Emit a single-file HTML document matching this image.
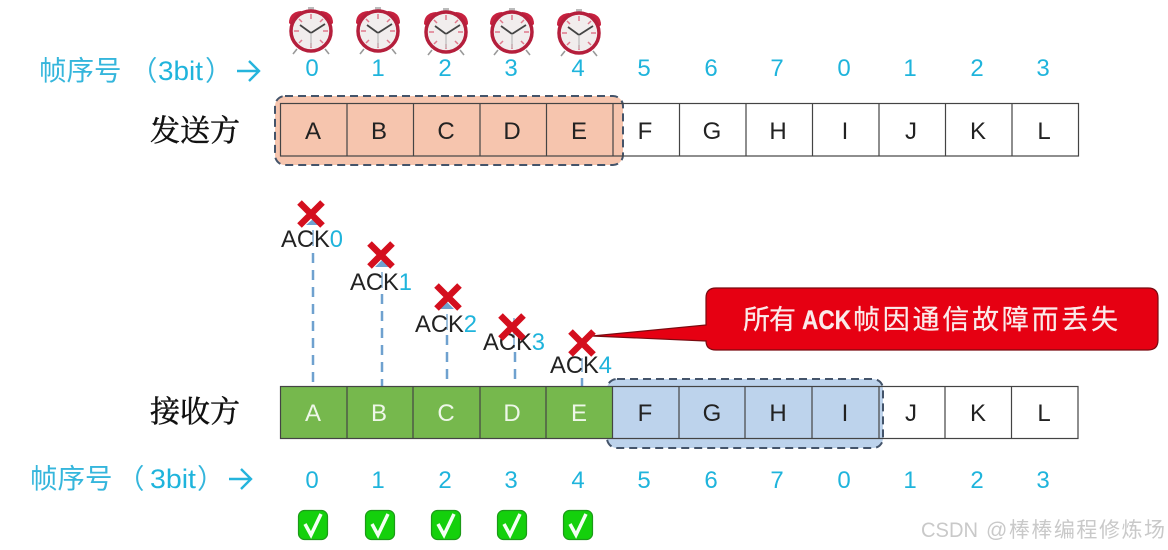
<!DOCTYPE html>
<html><head><meta charset="utf-8"><style>
html,body{margin:0;padding:0;background:#fff}
svg{display:block;filter:blur(0.35px)}
text{font-family:"Liberation Sans","Noto Sans CJK SC",sans-serif}
.c{text-anchor:middle;font-size:24px;fill:#222}
.w{text-anchor:middle;font-size:24px;fill:#eef7e8}
.n{text-anchor:middle;font-size:24px;fill:#1fb4dc}
.lb{font-size:27.5px;fill:#35b6dc}
.bit{font-size:27px;fill:#1fb4dc}
.zh{font-family:"Noto Serif CJK SC","Noto Sans CJK SC",sans-serif;font-size:30px;fill:#111;stroke:#111;stroke-width:.5px}
.a{font-size:24px;fill:#222}
.a tspan{fill:#1fb4dc}
.cw{font-size:27px;fill:#fbeaea;stroke:#fbeaea;stroke-width:.25px}
.wm{fill:#c9c9c9}
</style></head><body>
<svg width="1168" height="550" viewBox="0 0 1168 550" xmlns="http://www.w3.org/2000/svg">
<defs>
<g id="clock">
<path d="M-14 18L-18 23M14 18L18 23" stroke="#999" stroke-width="1.600"/>
<path d="M-22-8Q-22-19-10-20L-6-18L-19-5Z" fill="#c8213f"/>
<path d="M22-8Q22-19 10-20L6-18L19-5Z" fill="#c8213f"/>
<rect x="-3" y="-24" width="6" height="4" fill="#bbb"/>
<circle r="20" fill="#f1eded" stroke="#b51f3c" stroke-width="3.500"/>
<path d="M0-17V-12M0 12V17M-17 0H-12M12 0H17M-12-12L-9-9M12-12L9-9M-12 12L-9 9M12 12L9 9" stroke="#e0788c" stroke-width="1.500"/>
<path d="M0 2L-11-6M0 2L14-7" stroke="#444" stroke-width="1.800" fill="none"/>
<path d="M0 2V16" stroke="#bbb" stroke-width="1.200"/>
</g>
<g id="x"><path d="M-11.500-11.500L11.500 11.500M11.500-11.500L-11.500 11.500" stroke="#d40f1e" stroke-width="6.500"/></g>
<g id="chk">
<rect x="-14.500" y="-14.500" width="29" height="29" rx="6" fill="#14d00c" stroke="#1c9a18" stroke-width="1.200"/>
<path d="M-8-1L-2 10L8-11" fill="none" stroke="#f4fff4" stroke-width="3.500"/>
</g>
</defs>

<!-- Clocks -->
<use href="#clock" x="311" y="31"/>
<use href="#clock" x="378" y="31"/>
<use href="#clock" x="446" y="32"/>
<use href="#clock" x="512" y="32"/>
<use href="#clock" x="579" y="33"/>

<!-- Top row -->
<text class="lb" x="39" y="80">帧序号</text>
<text class="lb" x="130" y="80">（</text>
<text class="bit" x="158" y="80" textLength="45" lengthAdjust="spacingAndGlyphs">3bit</text>
<text class="lb" x="205" y="80">）</text>
<path d="M237 71H258M249 61L259 71L249 81" fill="none" stroke="#25b4dc" stroke-width="2.400"/>
<text class="n" x="312" y="76">0</text><text class="n" x="378" y="76">1</text><text class="n" x="445" y="76">2</text><text class="n" x="511" y="76">3</text><text class="n" x="578" y="76">4</text><text class="n" x="644" y="76">5</text><text class="n" x="711" y="76">6</text><text class="n" x="777" y="76">7</text><text class="n" x="844" y="76">0</text><text class="n" x="910" y="76">1</text><text class="n" x="977" y="76">2</text><text class="n" x="1043" y="76">3</text>
<text class="zh" x="150" y="141">发送方</text>

<rect x="275" y="96" width="348" height="69" rx="10" fill="#f6c5ae" stroke="#44546a" stroke-width="2" stroke-dasharray="8 5"/>
<g fill="none" stroke="#444" stroke-width="1.200">
<rect x="280.500" y="103.500" width="798" height="52.500"/>
<path d="M347 103V156M413.500 103V156M480 103V156M546.500 103V156M613 103V156M679.500 103V156M746 103V156M812.500 103V156M879 103V156M945.500 103V156M1012 103V156"/>
</g>
<text class="c" x="313" y="139">A</text><text class="c" x="379" y="139">B</text><text class="c" x="446" y="139">C</text><text class="c" x="512" y="139">D</text><text class="c" x="579" y="139">E</text><text class="c" x="645" y="139">F</text><text class="c" x="712" y="139">G</text><text class="c" x="778" y="139">H</text><text class="c" x="845" y="139">I</text><text class="c" x="911" y="139">J</text><text class="c" x="978" y="139">K</text><text class="c" x="1044" y="139">L</text>

<!-- Dashed ack lines -->
<g stroke="#6fa1cf" stroke-width="2.500" stroke-dasharray="10 7" fill="none">
<path d="M313 253V386"/>
<path d="M382 294V386"/>
<path d="M447 335V386"/>
<path d="M515 352V386"/>
<path d="M582 378V386"/>
</g>
<path d="M313 219L306 225H320Z M382 260L375 267H389Z M447 302L440 309H454Z" fill="#6fa1cf"/>
<path d="M313 230V246M382 272V288M447 314V330M514 318V348M582 358V372" stroke="#9dbfdd" stroke-width="2"/>

<!-- ACK labels -->
<text class="a" x="281" y="247" textLength="62" lengthAdjust="spacingAndGlyphs">ACK<tspan>0</tspan></text>
<text class="a" x="350" y="290" textLength="62" lengthAdjust="spacingAndGlyphs">ACK<tspan>1</tspan></text>
<text class="a" x="415" y="332" textLength="62" lengthAdjust="spacingAndGlyphs">ACK<tspan>2</tspan></text>
<text class="a" x="483" y="350" textLength="62" lengthAdjust="spacingAndGlyphs">ACK<tspan>3</tspan></text>
<text class="a" x="550" y="373" textLength="62" lengthAdjust="spacingAndGlyphs">ACK<tspan>4</tspan></text>

<!-- Callout -->
<path d="M716 288H1148Q1158 288 1158 298V340Q1158 350 1148 350H716Q706 350 706 341L592 336L706 325V298Q706 288 716 288Z" fill="#e60012" stroke="#7a0a10" stroke-width="1.200"/>
<text class="cw" x="743" y="329" textLength="53">所有</text>
<text class="cw" x="802" y="329" font-weight="700" textLength="49" lengthAdjust="spacingAndGlyphs">ACK</text>
<text class="cw" x="853" y="329" textLength="265">帧因通信故障而丢失</text>

<!-- Crosses -->
<use href="#x" x="311" y="214"/>
<use href="#x" x="381" y="255"/>
<use href="#x" x="448" y="297"/>
<use href="#x" x="512" y="327"/>
<use href="#x" x="582" y="343"/>

<!-- Bottom row -->
<text class="zh" x="150" y="422">接收方</text>
<rect x="607" y="379" width="276" height="69" rx="10" fill="#bdd3ec" stroke="#44546a" stroke-width="2" stroke-dasharray="8 5"/>
<rect x="280.500" y="386.500" width="332" height="52" fill="#76b84d"/>
<g fill="none" stroke="#444" stroke-width="1.200">
<rect x="280.500" y="386.500" width="797.500" height="52"/>
<path d="M347 386V438M413 386V438M480 386V438M546 386V438M612.500 386V438M679 386V438M745 386V438M812 386V438M879 386V438M945 386V438M1011.500 386V438"/>
</g>
<text class="w" x="313" y="421">A</text><text class="w" x="379" y="421">B</text><text class="w" x="446" y="421">C</text><text class="w" x="512" y="421">D</text><text class="w" x="579" y="421">E</text>
<text class="c" x="645" y="421">F</text><text class="c" x="712" y="421">G</text><text class="c" x="778" y="421">H</text><text class="c" x="845" y="421">I</text><text class="c" x="911" y="421">J</text><text class="c" x="978" y="421">K</text><text class="c" x="1044" y="421">L</text>

<text class="lb" x="30" y="488">帧序号</text>
<text class="lb" x="117" y="488">（</text>
<text class="bit" x="150" y="488" textLength="46" lengthAdjust="spacingAndGlyphs">3bit</text>
<text class="lb" x="197" y="488">）</text>
<path d="M229 479H250M241 469L251 479L241 489" fill="none" stroke="#25b4dc" stroke-width="2.400"/>
<text class="n" x="312" y="488">0</text><text class="n" x="378" y="488">1</text><text class="n" x="445" y="488">2</text><text class="n" x="511" y="488">3</text><text class="n" x="578" y="488">4</text><text class="n" x="644" y="488">5</text><text class="n" x="711" y="488">6</text><text class="n" x="777" y="488">7</text><text class="n" x="844" y="488">0</text><text class="n" x="910" y="488">1</text><text class="n" x="977" y="488">2</text><text class="n" x="1043" y="488">3</text>

<use href="#chk" x="313" y="525"/>
<use href="#chk" x="380" y="525"/>
<use href="#chk" x="446" y="525"/>
<use href="#chk" x="512" y="525"/>
<use href="#chk" x="578" y="525"/>

<text class="wm" x="921" y="537" font-size="21" textLength="57" lengthAdjust="spacingAndGlyphs">CSDN</text>
<text class="wm" x="986" y="537" font-size="21" textLength="179">@棒棒编程修炼场</text>
</svg>
</body></html>
